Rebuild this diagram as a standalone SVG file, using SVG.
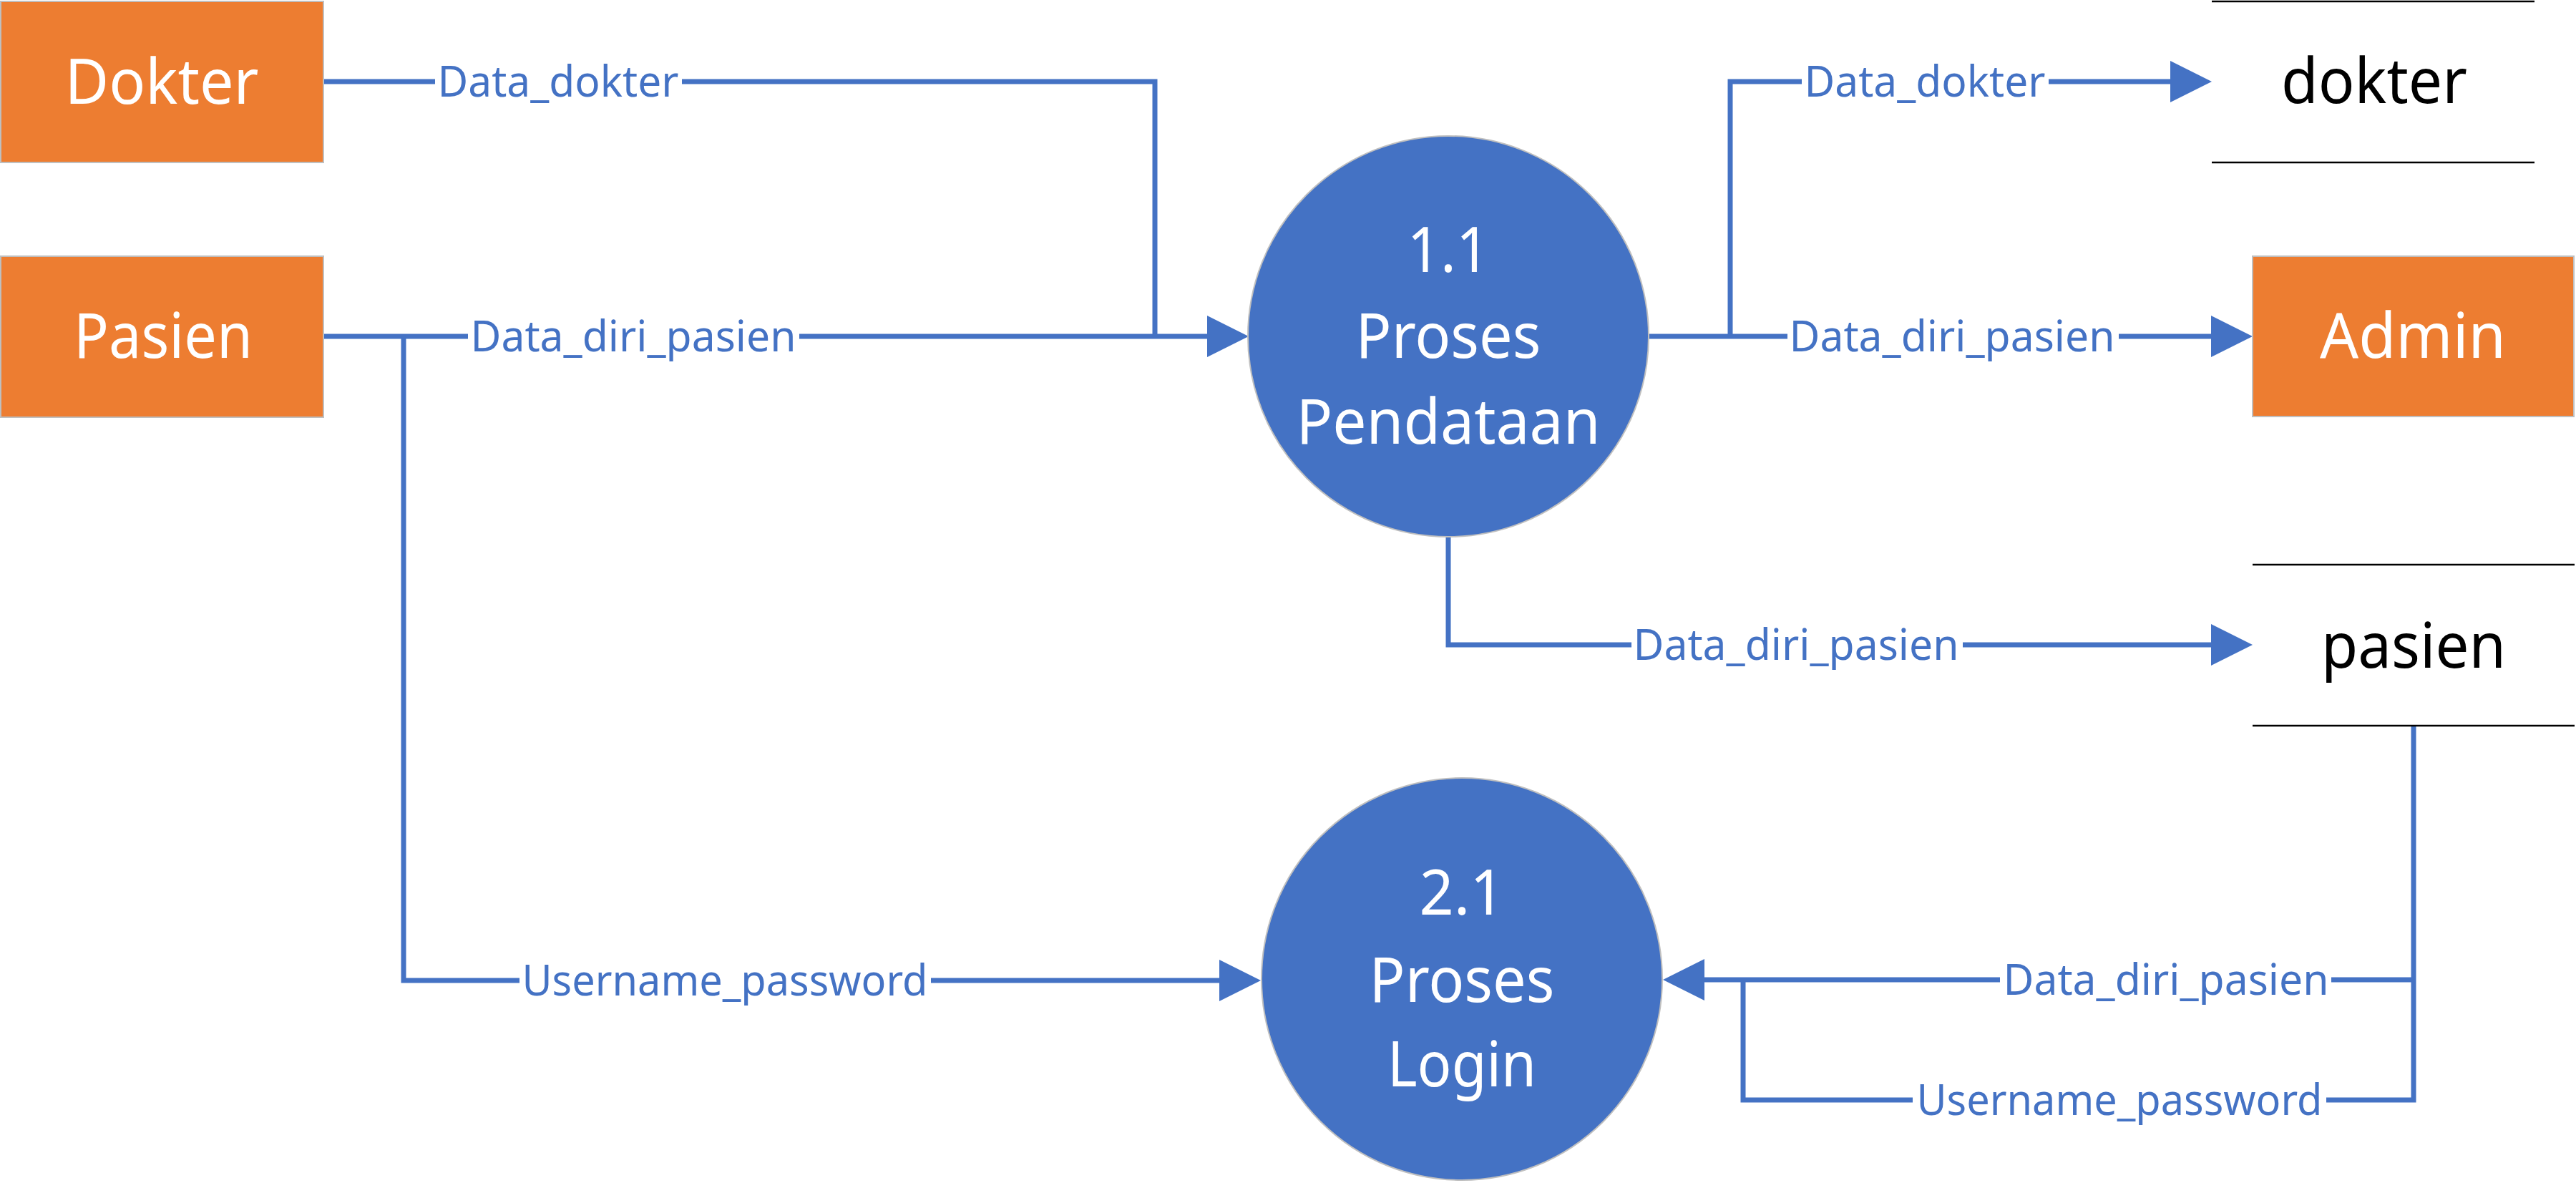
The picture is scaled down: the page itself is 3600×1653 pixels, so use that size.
<svg xmlns="http://www.w3.org/2000/svg" width="3600" height="1653" viewBox="0 0 3600 1653">
<style>
.ent{fill:#ED7D31;stroke:#BFBFBF;stroke-width:2}
.proc{fill:#4472C4;stroke:#BFBFBF;stroke-width:2}
.store{stroke:#000;stroke-width:2.5}
.nt{font-family:"Noto Sans","Open Sans",sans-serif;font-size:88px;fill:#fff;text-anchor:middle}
.st{font-family:"Noto Sans","Open Sans",sans-serif;font-size:88px;fill:#000;text-anchor:middle}
.ln{fill:none;stroke:#4472C4;stroke-width:7}
.lb{font-family:"Noto Sans","Open Sans",sans-serif;font-size:60px;fill:#4472C4;text-anchor:middle}
.bg{fill:#fff}
</style>
<defs>
<marker id="arr" markerUnits="userSpaceOnUse" markerWidth="58" markerHeight="58" refX="0" refY="29" orient="auto" viewBox="0 0 58 58">
<path d="M0,0 L58,29 L0,58 Z" fill="#4472C4"/>
</marker>
</defs>
<rect width="3600" height="1653" fill="#fff"/>
<g id="connectors">
<path class="ln" d="M452,114 H1614 V470"/>
<path class="ln" d="M452,470 H1687" marker-end="url(#arr)"/>
<path class="ln" d="M564,470 V1370 H1704" marker-end="url(#arr)"/>
<path class="ln" d="M2304,470 H3090" marker-end="url(#arr)"/>
<path class="ln" d="M2418,470 V114 H3033" marker-end="url(#arr)"/>
<path class="ln" d="M2024,751 V901 H3090" marker-end="url(#arr)"/>
<path class="ln" d="M3373,1014 V1537 H2436 V1369"/>
<path class="ln" d="M3373,1369 H2382" marker-end="url(#arr)"/>
<rect class="bg" x="608" y="96" width="345" height="40"/>
<text class="lb" x="780" y="135" textLength="337" lengthAdjust="spacingAndGlyphs">Data_dokter</text>
<rect class="bg" x="654" y="452" width="463" height="40"/>
<text class="lb" x="885" y="491" textLength="455" lengthAdjust="spacingAndGlyphs">Data_diri_pasien</text>
<rect class="bg" x="726" y="1352" width="575" height="40"/>
<text class="lb" x="1013" y="1391" textLength="567" lengthAdjust="spacingAndGlyphs">Username_password</text>
<rect class="bg" x="2518" y="96" width="345" height="40"/>
<text class="lb" x="2690" y="135" textLength="337" lengthAdjust="spacingAndGlyphs">Data_dokter</text>
<rect class="bg" x="2498" y="452" width="463" height="40"/>
<text class="lb" x="2728" y="491" textLength="455" lengthAdjust="spacingAndGlyphs">Data_diri_pasien</text>
<rect class="bg" x="2280" y="883" width="463" height="40"/>
<text class="lb" x="2510" y="922" textLength="455" lengthAdjust="spacingAndGlyphs">Data_diri_pasien</text>
<rect class="bg" x="2795" y="1351" width="463" height="40"/>
<text class="lb" x="3027" y="1390" textLength="455" lengthAdjust="spacingAndGlyphs">Data_diri_pasien</text>
<rect class="bg" x="2673" y="1519" width="578" height="40"/>
<text class="lb" x="2962" y="1558" textLength="567" lengthAdjust="spacingAndGlyphs">Username_password</text>
</g>
<g id="dokter-entity">
<rect class="ent" x="1" y="2" width="451" height="225"/>
<text class="nt" x="226" y="145" textLength="271" lengthAdjust="spacingAndGlyphs">Dokter</text>
</g>
<g id="pasien-entity">
<rect class="ent" x="1" y="358" width="451" height="225"/>
<text class="nt" x="228" y="500" textLength="250" lengthAdjust="spacingAndGlyphs">Pasien</text>
</g>
<g id="admin-entity">
<rect class="ent" x="3148" y="358" width="449" height="224"/>
<text class="nt" x="3372" y="500" textLength="260" lengthAdjust="spacingAndGlyphs">Admin</text>
</g>
<g id="proses-pendataan">
<ellipse class="proc" cx="2024" cy="470" rx="280" ry="280"/>
<text class="nt" x="2024" y="380" textLength="115" lengthAdjust="spacingAndGlyphs">1.1</text>
<text class="nt" x="2024" y="500" textLength="259" lengthAdjust="spacingAndGlyphs">Proses</text>
<text class="nt" x="2024" y="620" textLength="425" lengthAdjust="spacingAndGlyphs">Pendataan</text>
</g>
<g id="proses-login">
<ellipse class="proc" cx="2043" cy="1368" rx="280" ry="281"/>
<text class="nt" x="2043" y="1278" textLength="119" lengthAdjust="spacingAndGlyphs">2.1</text>
<text class="nt" x="2043" y="1400" textLength="259" lengthAdjust="spacingAndGlyphs">Proses</text>
<text class="nt" x="2043" y="1518" textLength="208" lengthAdjust="spacingAndGlyphs">Login</text>
</g>
<g id="dokter-store">
<line class="store" x1="3091" y1="2" x2="3542" y2="2"/>
<line class="store" x1="3091" y1="227" x2="3542" y2="227"/>
<text class="st" x="3318" y="144" textLength="260" lengthAdjust="spacingAndGlyphs">dokter</text>
</g>
<g id="pasien-store">
<line class="store" x1="3148" y1="789" x2="3598" y2="789"/>
<line class="store" x1="3148" y1="1014" x2="3598" y2="1014"/>
<text class="st" x="3373" y="933" textLength="258" lengthAdjust="spacingAndGlyphs">pasien</text>
</g>
</svg>
